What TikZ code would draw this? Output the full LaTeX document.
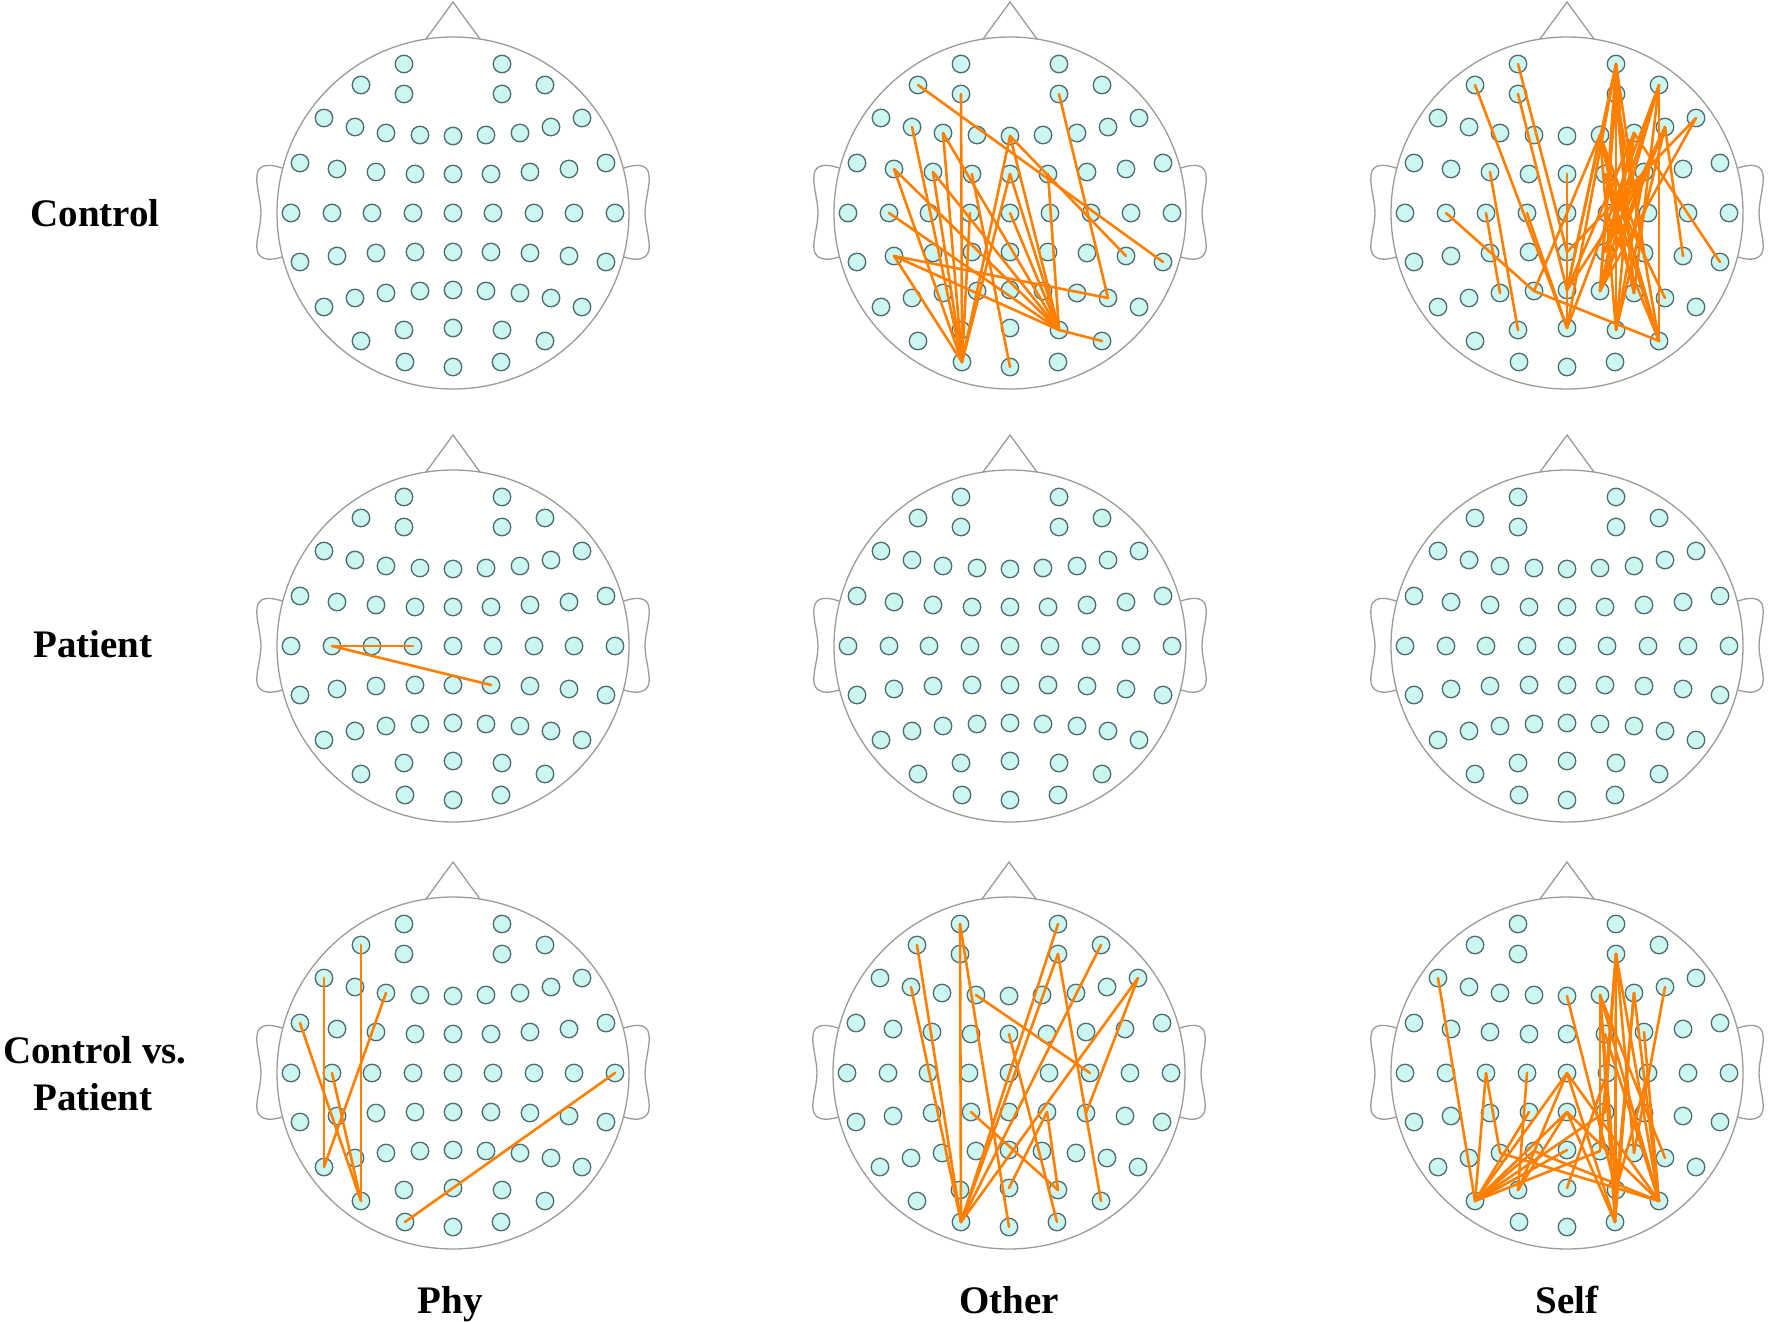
\documentclass[tikz,border=0pt]{standalone}
\usepackage{fontspec}
\setmainfont{Liberation Serif}
\definecolor{elecfill}{RGB}{204,246,242}
\definecolor{elecdraw}{RGB}{80,108,108}
\definecolor{headgray}{RGB}{155,155,155}
\definecolor{conncol}{RGB}{255,128,0}
\tikzset{
  elec/.style={circle, minimum size=17.5pt, inner sep=0pt, fill=elecfill, draw=elecdraw, line width=1.3pt},
  headline/.style={draw=headgray, line width=1.3pt},
  conn/.style={draw=conncol, line width=2.6pt, line cap=round},
  lab/.style={font=\fontsize{39}{47}\selectfont\bfseries, anchor=base, inner sep=0pt}
}
\def\elist{a1/-49/-149, a2/49/-149,
b1/-92/-128, b2/-49/-119, b3/49/-119, b4/92/-128,
c1/-129/-95, c2/-98/-86, c3/-67/-80, c4/-33/-78, c5/0/-77, c6/33/-78, c7/67/-80, c8/98/-86, c9/129/-95,
d1/-153/-50, d2/-116/-44, d3/-77/-41, d4/-38/-39, d5/0/-39, d6/38/-39, d7/77/-41, d8/116/-44, d9/153/-50,
e1/-162/0, e2/-121/0, e3/-81/0, e4/-40/0, e5/0/0, e6/40/0, e7/81/0, e8/121/0, e9/162/0,
f1/-153/49, f2/-116/43, f3/-77/40, f4/-38/39, f5/0/39, f6/38/39, f7/77/40, f8/116/43, f9/153/49,
g1/-129/94, g2/-98/85, g3/-67/80, g4/-33/78, g5/0/77, g6/33/78, g7/67/80, g8/98/85, g9/129/94,
h1/-92/128, h2/-49/117, h3/0/115, h4/49/117, h5/92/128,
i1/-48/149, i2/0/154, i3/48/149}
\newcommand\eegHead[3]{%
  \begin{scope}[shift={(#2,#3)}]
    \draw[headline] (-27,-174) -- (0,-211) -- (27,-174);
    \draw[headline] (-171,-45) .. controls (-180,-48) and (-191,-50) .. (-195,-42)
      .. controls (-199,-32) and (-192,-14) .. (-192,0)
      .. controls (-192,14) and (-199,32) .. (-195,40)
      .. controls (-191,48) and (-180,47) .. (-171,44);
    \draw[headline] (171,-45) .. controls (180,-48) and (191,-50) .. (195,-42)
      .. controls (199,-32) and (192,-14) .. (192,0)
      .. controls (192,14) and (199,32) .. (195,40)
      .. controls (191,48) and (180,47) .. (171,44);
    \draw[headline] (0,0) circle[radius=176pt];
    \foreach \n/\x/\y in \elist {\node[elec] (#1-\n) at (\x,\y) {};}
  \end{scope}}
\newcommand\eegLinks[2]{\foreach \u/\v in {#2} {\draw[conn] (#1-\u.center) -- (#1-\v.center);}}
\begin{document}
\begin{tikzpicture}[x=1pt,y=-1pt]
\fill[white] (0,0) rectangle (1772,1322);
\useasboundingbox (0,0) rectangle (1772,1322);
% heads
\eegHead{HA}{453}{213}
\eegHead{HB}{1010}{213}
\eegHead{HC}{1567}{213}
\eegHead{HD}{453}{646}
\eegHead{HE}{1010}{646}
\eegHead{HF}{1567}{646}
\eegHead{HG}{453}{1073}
\eegHead{HH}{1009}{1073}
\eegHead{HI}{1567}{1073}
% Control - Other
\eegLinks{HB}{b1/f9, b3/g8, f2/g8, c5/f8, b2/i1, c2/i1, c3/i1, c3/h4, d2/i1, d2/h4, d3/h4, d3/i1, e2/h4, f2/i1, f2/h4, c5/i1, d5/i1, c5/h4, d5/h4, e5/h4, d6/h4, h4/h5, d4/i2, e4/i1}
% Control - Self
\eegLinks{HC}{b1/h3, a1/f5, b2/g5, d3/h2, e3/g3, e2/g4, g4/c6, g4/h5, e4/h3, d5/h3, c8/f8, c7/f9, c9/f5, c9/g6, a2/h4, a2/g6, a2/g7, a2/h3, b4/g6, b4/h3, b4/f6, b4/g7, c6/h5, c6/g7, c6/h4, c7/g6, c7/h4, c7/g5, b3/g7, b3/g6, b3/h5, d6/h5, d6/g8, d7/g5, d7/g6, d7/h4, c8/g6, c8/h4, c8/f6, a2/f7, b3/f7, c6/f7, c7/f6, d6/g7, d7/f6, b4/h5, a2/g5, c6/g5, e6/h5}
% Patient - Phy
\eegLinks{HD}{e2/e4, e2/f6}
% Control vs Patient - Phy
\eegLinks{HG}{c1/g1, b1/h1, c3/g1, d1/h1, e2/h1, i1/e9}
% Control vs Patient - Other
\eegLinks{HH}{a1/i1, b1/i1, c2/i1, a1/i2, a2/i1, b3/i1, b4/i1, c9/i1, c9/f7, c4/e7, b3/h5, d5/i3, f4/h4, f6/h4, f6/h3}
% Control vs Patient - Self
\eegLinks{HI}{c1/h1, e3/h1, e3/g3, e4/h2, h1/e5, h1/f5, h1/g5, h1/f4, h1/g4, h1/g6, h1/f6, e5/h5, f5/h5, e5/i3, f5/i3, c5/h4, b3/i3, b3/h5, b3/h4, b3/g7, b3/f6, c6/i3, c6/h5, c6/h4, c7/i3, c7/h5, c7/h4, c8/g7, e7/h4, g8/c6, h2/f5, h2/e5, g4/h5, g3/h5, h3/e6, b3/g6, c6/g6, d6/h5, d7/h5}
% labels
\node[lab] (lc) at (95,226) {Control};
\node[lab] (lp) at (93,657) {Patient};
\node[lab] (lcv) at (95,1063) {Control vs.};
\node[lab] (lcv2) at (93,1110) {Patient};
\node[lab] (cphy) at (450,1313) {Phy};
\node[lab] (coth) at (1009,1313) {Other};
\node[lab] (cself) at (1567,1313) {Self};
\end{tikzpicture}
\end{document}
